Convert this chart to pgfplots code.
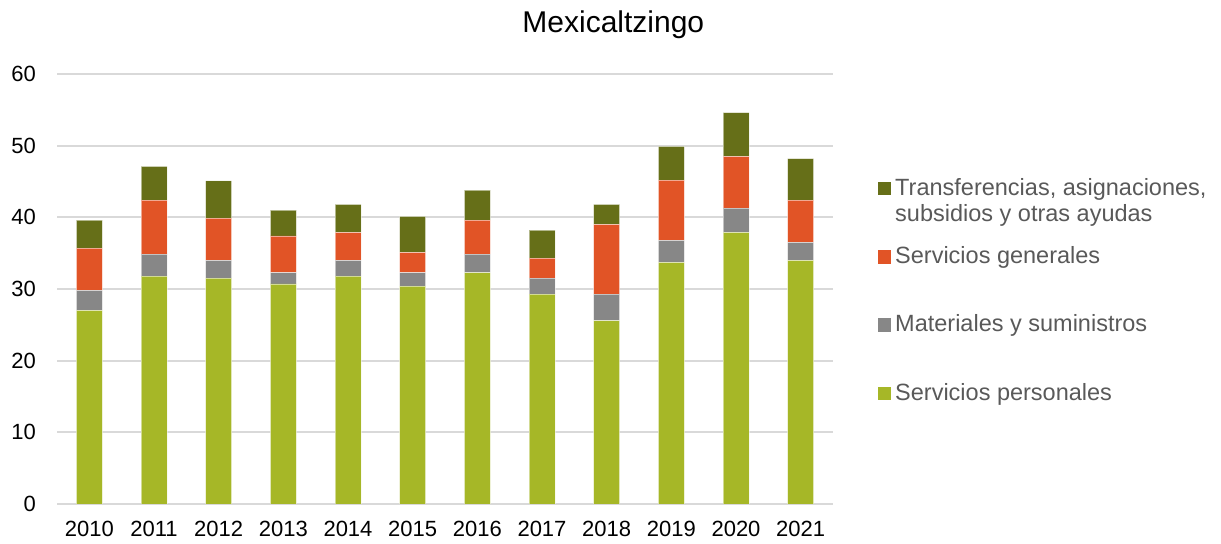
\documentclass[border=0pt]{standalone}
\usepackage{pgfplots}
\usepackage{pgfplotstable}
\pgfplotsset{compat=1.18}
\usepackage{fontspec}
\setmainfont{Liberation Sans}

\definecolor{cSP}{HTML}{A6B727}
\definecolor{cMS}{HTML}{878787}
\definecolor{cSG}{HTML}{E15426}
\definecolor{cTR}{HTML}{666F18}
\definecolor{gridgray}{HTML}{D9D9D9}
\definecolor{legtext}{HTML}{595959}

% year, servicios personales, materiales, servicios generales, transferencias
\pgfplotstableread{
year sp    ms   sg   tr
2010 27.0  2.8  5.9  3.9
2011 31.8  3.05 7.55 4.7
2012 31.5  2.5  5.9  5.2
2013 30.7  1.6  5.1  3.6
2014 31.8  2.2  3.9  3.9
2015 30.4  1.9  2.8  5.05
2016 32.3  2.55 4.75 4.2
2017 29.3  2.2  2.8  3.9
2018 25.6  3.7  9.7  2.8
2019 33.7  3.1  8.4  4.7
2020 37.9  3.4  7.2  6.1
2021 34.0  2.5  5.9  5.8
}\datatable

\begin{document}
\begin{tikzpicture}
\useasboundingbox (-57bp,-40bp) rectangle (1164bp,504bp);
\begin{axis}[
  scale only axis,
  width=776bp, height=430bp,
  ybar stacked, bar width=26bp,
  xmin=2009.5, xmax=2021.5,
  ymin=0, ymax=60,
  xtick=data, ytick={0,10,...,60},
  /pgf/number format/1000 sep={},
  /pgf/number format/assume math mode=true,
  axis line style={draw=none},
  major tick length=0pt,
  ymajorgrids,
  grid style={color=gridgray, line width=2bp},
  ticklabel style={font=\fontsize{22bp}{26bp}\selectfont, text=black},
  yticklabel style={anchor=east, inner sep=0pt, xshift=-21bp},
  xticklabel style={anchor=base, inner sep=0pt, yshift=-32.7bp},
  every axis plot/.append style={draw=white, draw opacity=0.5, line width=0.6bp},
  reverse legend,
  legend cell align=left,
  legend image code/.code={\fill[#1, draw=none] (0bp,-6bp) rectangle (13.5bp,7.5bp);},
  legend style={draw=none, fill=none,
    at={(1.0571,0.7651)}, anchor=north west,
    inner xsep=0pt, inner ysep=0pt,
    row sep=40.3bp, column sep=1.2bp,
    font=\fontsize{23.5bp}{28bp}\selectfont,
    nodes={inner sep=3bp, text height=17bp, text depth=5bp, text=legtext}},
]
\addplot[fill=cSP] table[x=year, y=sp] {\datatable};
\addlegendentry{Servicios personales}
\addplot[fill=cMS] table[x=year, y=ms] {\datatable};
\addlegendentry{Materiales y suministros}
\addplot[fill=cSG] table[x=year, y=sg] {\datatable};
\addlegendentry{Servicios generales}
\addplot[fill=cTR] table[x=year, y=tr] {\datatable};
\addlegendentry{\rlap{\raisebox{-26.7bp}[0pt][0pt]{subsidios y otras ayudas}}Transferencias, asignaciones,}
\end{axis}
\node[anchor=base, font=\fontsize{30bp}{36bp}\selectfont] at (556.3bp,471.3bp) {Mexicaltzingo};
\end{tikzpicture}
\end{document}
